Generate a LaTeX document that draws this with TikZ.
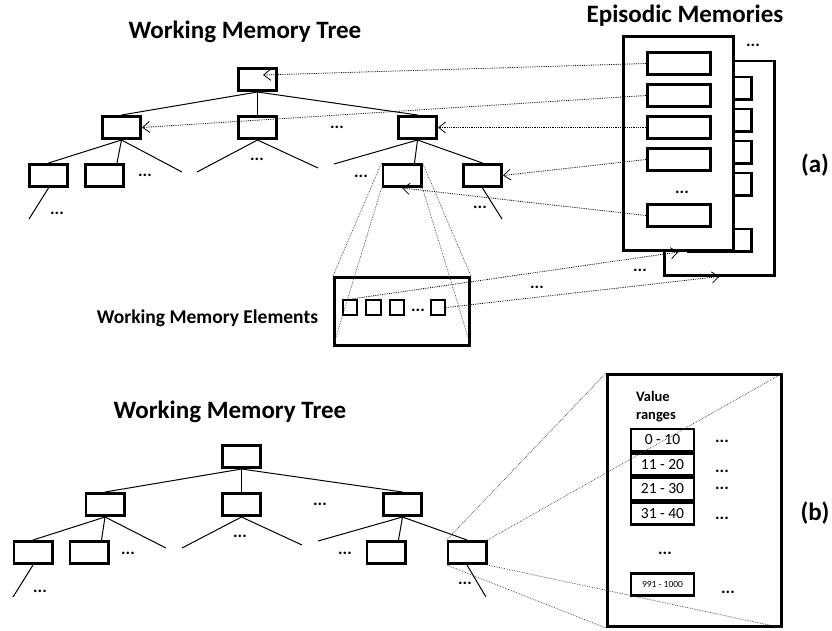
\documentclass[tikz,border=0pt]{standalone}
\usepackage{fontspec}
\setmainfont{Carlito}
\usetikzlibrary{arrows.meta}

\begin{document}
\begin{tikzpicture}[x=1pt,y=-1pt,
  tbox/.style={draw,line width=2.6pt,minimum width=38.4pt,minimum height=22.4pt,inner sep=0pt},
  tline/.style={line width=1pt},
  dots/.style={font=\fontsize{17}{17}\selectfont\bfseries,inner sep=0pt},
  ttl/.style={font=\fontsize{25}{30}\selectfont\bfseries,inner sep=0pt},
  zline/.style={densely dotted,line width=0.7pt,black!75},
  marrow/.style={densely dotted,line width=0.8pt,-{Straight Barb[length=7pt,width=11pt]}},
  eframe/.style={draw,fill=white,line width=2.6pt,minimum width=110.4pt,minimum height=214.4pt,inner sep=0pt},
  mbox/.style={draw,fill=white,line width=2.6pt,minimum width=63.4pt,minimum height=22.4pt,inner sep=0pt},
  ebox/.style={draw,line width=2.2pt,minimum size=14.4pt,inner sep=0pt},
  rbox/.style={draw,line width=2.4pt,minimum width=62.6pt,minimum height=22.1pt,inner sep=0pt,font=\fontsize{15.5}{18}\selectfont}]
\useasboundingbox (0,0) rectangle (832,630);

% (a) tree
\node[ttl] (ttla) at (245,32) {Working Memory Tree};
\node[tbox] (r) at (257.5,79.5) {};
\node[tbox] (a1) at (121.5,127.5) {};
\node[tbox] (a2) at (257.5,127.5) {};
\node[tbox] (a3) at (417.5,127.5) {};
\node[tbox] (a11) at (48.5,175.5) {};
\node[tbox] (a12) at (104.5,175.5) {};
\node[tbox] (a31) at (402,175.5) {};
\node[tbox] (a32) at (482.5,175.5) {};
\coordinate (a1e) at (182,172);
\coordinate (a2l) at (197,172);
\coordinate (a2r) at (318,168);
\coordinate (a3l) at (334,164);
\coordinate (a32e) at (502,219);
\coordinate (a11e) at (29,219);
\foreach \c in {a1,a2,a3} \draw[tline] (r.south) -- (\c.north);
\draw[tline] (a1.south) -- (a11.north);
\draw[tline] (a1.south) -- (a12.45);
\draw[tline] (a1.south) -- (a1e);
\draw[tline] (a2.south) -- (a2l);
\draw[tline] (a2.south) -- (a2r);
\draw[tline] (a3.south) -- (a3l);
\draw[tline] (a3.south) -- (a31.45);
\draw[tline] (a3.south) -- (a32.north);
\draw[tline] (a32.south) -- (a32e);
\draw[tline] (a11.south) -- (a11e);

% working memory elements
\node[draw,line width=2.6pt,minimum width=135.4pt,minimum height=68.4pt,inner sep=0pt] (wme) at (402,311.5) {};
\node[ebox] (e1) at (350,307.5) {};
\node[ebox] (e2) at (373.5,307.5) {};
\node[ebox] (e3) at (397,307.5) {};
\node[ebox] (e4) at (438,307.5) {};
\node[font=\fontsize{19.5}{23}\selectfont\bfseries,inner sep=0pt] (wmel) at (207.5,318) {Working Memory Elements};
\draw[zline] (a31.north west) -- (wme.north west);
\draw[zline] (a31.south west) -- (wme.south west);
\draw[zline] (a31.north east) -- (wme.north east);
\draw[zline] (a31.south east) -- (wme.south east);

% episodic memories
\node[ttl] (ttle) at (685,16) {Episodic Memories};
\node[eframe] (eback) at (719.5,168) {};
\foreach \y [count=\i] in {88,120,152,184,240}
  \node[mbox] (eb\i) at (720,\y) {};
\node[eframe] (ep) at (678.5,143.5) {};
\foreach \y [count=\i] in {63.5,95.5,127.5,159.5,215.5}
  \node[mbox] (em\i) at (679,\y) {};
\coordinate (rtip) at (263,75);
\draw[marrow] (em1.west) -- (rtip);
\draw[marrow] (em2.west) -- (a1.east);
\draw[marrow] (em3.west) -- (a3.east);
\draw[marrow] (em4.west) -- (a32.east);
\draw[marrow] (em5.west) -- (a31.south);
\draw[marrow] (e1.north) -- (ep.south);
\draw[marrow] (e4.east) -- (eback.south);

\foreach \x/\y [count=\i] in {337/127,145/175,257/159,361/176,480/207,57/213,682/192,753/45,537/287,640/270,418/310}
  \node[dots] (da\i) at (\x,\y) {...};
\node[ttl] (la) at (815,165) {(a)};

% (b) tree
\node[ttl] (ttlb) at (230,412) {Working Memory Tree};
\node[tbox] (br) at (241.5,456.5) {};
\node[tbox] (b1) at (105,504.5) {};
\node[tbox] (b2) at (241.5,504.5) {};
\node[tbox] (b3) at (402.5,504.5) {};
\node[tbox] (b11) at (33,552.5) {};
\node[tbox] (b12) at (89,552.5) {};
\node[tbox] (b31) at (386,552.5) {};
\node[tbox] (b32) at (467,552.5) {};
\coordinate (b1e) at (166,548);
\coordinate (b2l) at (182,548);
\coordinate (b2r) at (302,545);
\coordinate (b3l) at (318,541);
\coordinate (b32e) at (486,597);
\coordinate (b11e) at (13,597);
\foreach \c in {b1,b2,b3} \draw[tline] (br.south) -- (\c.north);
\draw[tline] (b1.south) -- (b11.north);
\draw[tline] (b1.south) -- (b12.45);
\draw[tline] (b1.south) -- (b1e);
\draw[tline] (b2.south) -- (b2l);
\draw[tline] (b2.south) -- (b2r);
\draw[tline] (b3.south) -- (b3l);
\draw[tline] (b3.south) -- (b31.45);
\draw[tline] (b3.south) -- (b32.north);
\draw[tline] (b32.south) -- (b32e);
\draw[tline] (b11.south) -- (b11e);

% value ranges
\node[draw,line width=2.6pt,minimum width=174.4pt,minimum height=252.4pt,inner sep=0pt] (vbox) at (694.5,500.5) {};
\node[font=\fontsize{14.5}{18}\selectfont\bfseries,align=left,anchor=west,inner sep=0pt] (vr) at (636,407) {Value\\ranges};
\foreach \y/\t [count=\i] in {440/0 - 10,464.5/11 - 20,489/21 - 30,513.5/31 - 40}
  \node[rbox] (rg\i) at (662.5,\y) {\t};
\node[rbox,font=\fontsize{9.5}{11}\selectfont] (rg5) at (662.5,584.5) {991 - 1000};
\draw[zline] (b32.north west) -- (vbox.north west);
\draw[zline] (b32.north east) -- (vbox.north east);
\draw[zline] (b32.south east) -- (vbox.south east);
\draw[zline] (b32.south west) -- (vbox.south west);

\foreach \x/\y [count=\i] in {320/504,128/553,240/536,345/553,465/583,40/591,665/553,722/441,722/471,722/488,722/518,728/592}
  \node[dots] (db\i) at (\x,\y) {...};
\node[ttl] (lb) at (815,513) {(b)};
\end{tikzpicture}
\end{document}
